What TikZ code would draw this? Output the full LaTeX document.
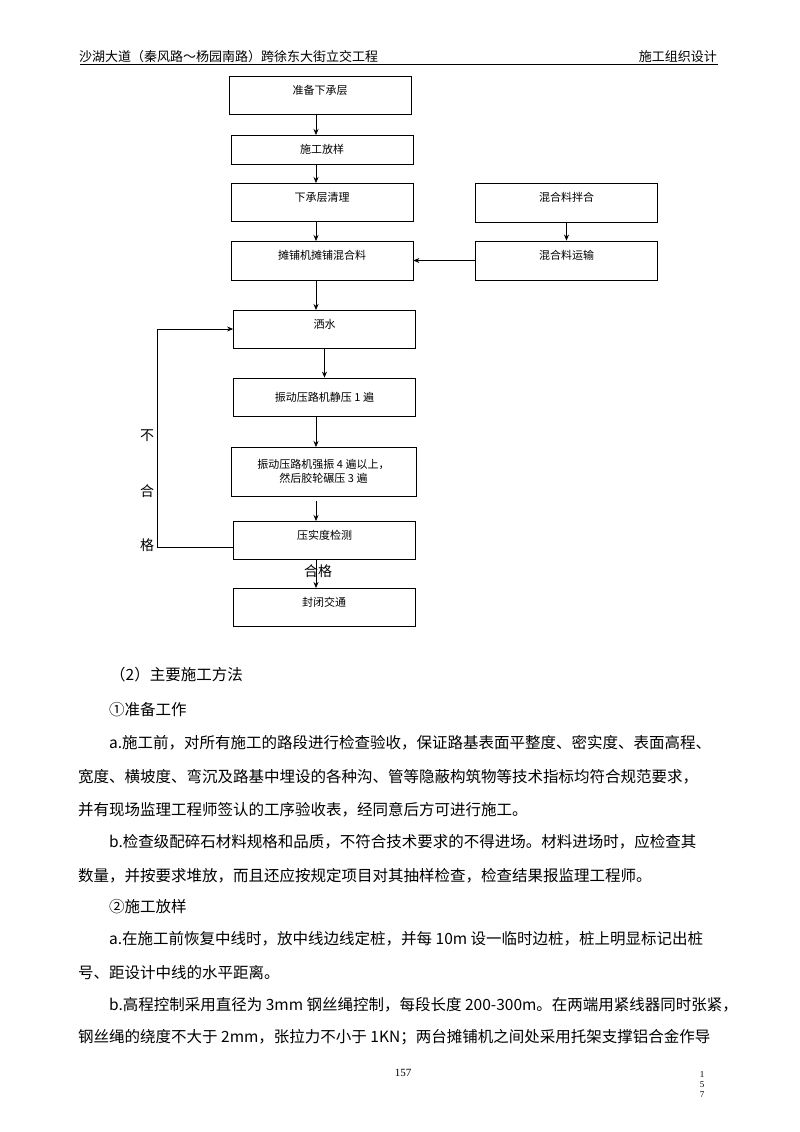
\documentclass[tikz,border=0pt]{standalone}
\usetikzlibrary{arrows.meta}
\usepackage{fontspec}
\setmainfont{Liberation Serif}
\newfontfamily\cjk{Noto Sans CJK SC}
\begin{document}
\begin{tikzpicture}[x=1pt,y=-1pt,
 box/.style={draw,thick,minimum width=182pt,inner sep=0pt,font=\cjk\fontsize{11}{14}\selectfont},
 tb/.style={text height=12pt,text depth=14pt},
 arr/.style={-{Stealth[length=6pt,width=5pt]},semithick},
 body/.style={anchor=west,inner sep=0pt,font=\cjk\fontsize{15.5}{18}\selectfont}]
\useasboundingbox (0,0) rectangle (800,1132);
\node[anchor=south west,inner sep=1pt,font=\cjk\fontsize{13}{15}\selectfont] (h1) at (78,64) {沙湖大道（秦风路～杨园南路）跨徐东大街立交工程};
\node[anchor=south east,inner sep=1pt,font=\cjk\fontsize{13}{15}\selectfont] (h2) at (718,64) {施工组织设计};
\draw[semithick] (80,64.5) -- (718,64.5);
\node[box,tb,minimum height=38pt] (b1) at (320,95) {准备下承层};
\node[box,minimum height=29pt] (b2) at (322,149.5) {施工放样};
\node[box,tb,minimum height=38pt] (b3) at (322,202) {下承层清理};
\node[box,tb,minimum height=39pt] (b4) at (322,260.5) {摊铺机摊铺混合料};
\node[box,tb,minimum height=39pt] (r1) at (566.5,202.5) {混合料拌合};
\node[box,tb,minimum height=39pt] (r2) at (566.5,260.5) {混合料运输};
\node[box,tb,minimum height=38pt] (b5) at (324.5,329) {洒水};
\node[box,minimum height=38pt] (b6) at (324.5,397) {振动压路机静压 1 遍};
\node[box,minimum height=49pt,align=center,minimum width=185pt] (b7) at (323.5,471.5) {振动压路机强振 4 遍以上，\\然后胶轮碾压 3 遍};
\node[box,tb,minimum height=38pt] (b8) at (324.5,540) {压实度检测};
\node[box,tb,minimum height=38pt] (b9) at (324,607) {封闭交通};
\draw[arr] (316,114) -- (316,135);
\draw[arr] (316,164) -- (316,183);
\draw[arr] (316,221) -- (316,241);
\draw[arr] (r1) -- (r2);
\draw[arr] (r2) -- (b4);
\draw[arr] (316,280) -- (316,310);
\draw[arr] (b5) -- (b6);
\draw[arr] (316,416) -- (316,447);
\draw[arr] (316,501) -- (316,521);
\draw[arr] (316,559) -- (316,588);
\coordinate (l1) at (157,547); \coordinate (l2) at (157,329);
\draw[arr] (b8.west|-l1) -- (l1) -- (l2) -- (b5.west);
\node[font=\cjk\fontsize{14}{16}\selectfont] (t1) at (147,436) {不};
\node[font=\cjk\fontsize{14}{16}\selectfont] (t2) at (147,491) {合};
\node[font=\cjk\fontsize{14}{16}\selectfont] (t3) at (147,545) {格};
\node[font=\cjk\fontsize{14}{16}\selectfont] (t4) at (318,571) {合格};
\node[body] (p1) at (110,675) {（2）主要施工方法};
\node[body] (p2) at (109,710) {①准备工作};
\node[body] (p3) at (109,743) {a.施工前，对所有施工的路段进行检查验收，保证路基表面平整度、密实度、表面高程、};
\node[body] (p4) at (78,777) {宽度、横坡度、弯沉及路基中埋设的各种沟、管等隐蔽构筑物等技术指标均符合规范要求，};
\node[body] (p5) at (78,810) {并有现场监理工程师签认的工序验收表，经同意后方可进行施工。};
\node[body] (p6) at (109,842) {b.检查级配碎石材料规格和品质，不符合技术要求的不得进场。材料进场时，应检查其};
\node[body] (p7) at (78,876) {数量，并按要求堆放，而且还应按规定项目对其抽样检查，检查结果报监理工程师。};
\node[body] (p8) at (109,907) {②施工放样};
\node[body] (p9) at (109,939) {a.在施工前恢复中线时，放中线边线定桩，并每 10m 设一临时边桩，桩上明显标记出桩};
\node[body] (p10) at (78,973) {号、距设计中线的水平距离。};
\node[body] (p11) at (109,1005) {b.高程控制采用直径为 3mm 钢丝绳控制，每段长度 200-300m。在两端用紧线器同时张紧，};
\node[body] (p12) at (78,1037) {钢丝绳的绕度不大于 2mm，张拉力不小于 1KN；两台摊铺机之间处采用托架支撑铝合金作导};
\node[font=\fontsize{11}{12}\selectfont] (pg) at (403,1073) {157};
\node[font=\fontsize{9}{10}\selectfont,align=center] (pg2) at (702,1085) {1\\5\\7};
\end{tikzpicture}
\end{document}
